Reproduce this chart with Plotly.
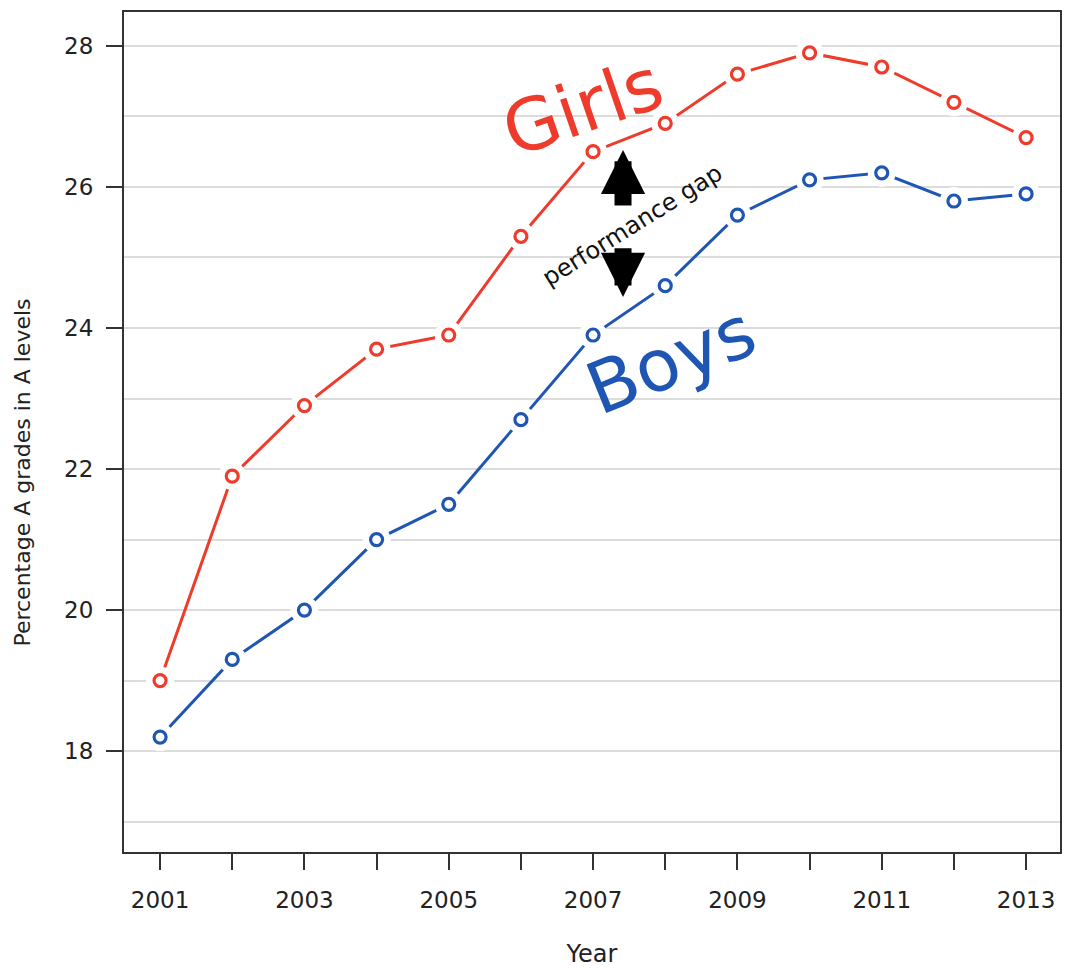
import plotly.graph_objects as go

years = list(range(2001, 2014))
girls = [19.0, 21.9, 22.9, 23.7, 23.9, 25.3, 26.5, 26.9, 27.6, 27.9, 27.7, 27.2, 26.7]
boys = [18.2, 19.3, 20.0, 21.0, 21.5, 22.7, 23.9, 24.6, 25.6, 26.1, 26.2, 25.8, 25.9]
x_tick_labels = [str(y) if y % 2 == 1 else "" for y in years]
y_major = [18, 20, 22, 24, 26, 28]
y_major_labels = [str(v) for v in y_major]
y_minor = [17, 19, 21, 23, 25, 27]

RED = "#ee3b2b"
BLUE = "#1f56b3"
FONT = "DejaVu Sans"

fig = go.Figure()
for vals, col in [(girls, RED), (boys, BLUE)]:
    fig.add_trace(go.Scatter(x=years, y=vals, mode="lines",
                             line=dict(color=col, width=3), showlegend=False, hoverinfo="skip"))
    fig.add_trace(go.Scatter(x=years, y=vals, mode="markers",
                             marker=dict(size=28, color="white", line=dict(width=0)),
                             showlegend=False, hoverinfo="skip"))
    fig.add_trace(go.Scatter(x=years, y=vals, mode="markers",
                             marker=dict(size=12, color="white", line=dict(color=col, width=3.2)),
                             showlegend=False))

# labels
fig.add_annotation(x=2006.86, y=27.14, text="Girls", showarrow=False, textangle=-19,
                   font=dict(family=FONT, size=72, color=RED))
fig.add_annotation(x=2008.08, y=23.55, text="Boys", showarrow=False, textangle=-22,
                   font=dict(family=FONT, size=72, color=BLUE))
fig.add_annotation(x=2007.55, y=25.46, text="performance gap", showarrow=False, textangle=-32,
                   font=dict(family=FONT, size=24, color="#111"))
# arrows
fig.add_annotation(x=2007.415, y=26.525, ax=2007.415, ay=25.716, xref="x", yref="y", axref="x", ayref="y",
                   text="", showarrow=True, arrowhead=2, arrowsize=0.52, arrowwidth=17, arrowcolor="black")
fig.add_annotation(x=2007.415, y=24.44, ax=2007.415, ay=25.15, xref="x", yref="y", axref="x", ayref="y",
                   text="", showarrow=True, arrowhead=2, arrowsize=0.52, arrowwidth=17, arrowcolor="black")
# y-axis title (positioned as in the reference, below the axis centre)
fig.add_annotation(xref="paper", yref="paper", x=-0.1087, y=0.452, text="Percentage A grades in A levels",
                   showarrow=False, textangle=-90, xanchor="center", yanchor="middle",
                   font=dict(family=FONT, size=22, color="#222"))

fig.update_layout(
    width=1065, height=968,
    margin=dict(l=124, r=3, t=12, b=116),
    plot_bgcolor="white", paper_bgcolor="white",
    font=dict(family=FONT, size=23, color="#222"),
    xaxis=dict(range=[2000.5, 2013.47], tickvals=years, ticktext=x_tick_labels,
               ticks="outside", ticklen=16, tickwidth=2, tickcolor="#333", ticklabelstandoff=10,
               showgrid=False, zeroline=False, showline=True, linecolor="#333", linewidth=2,
               mirror=True, title=dict(text="Year", font=dict(size=24), standoff=35)),
    yaxis=dict(range=[16.57, 28.48], tickvals=y_major, ticktext=y_major_labels,
               ticks="outside", ticklen=16, tickwidth=2, tickcolor="#333", ticklabelstandoff=8,
               showgrid=True, gridcolor="#dcdcdc", gridwidth=2, zeroline=False,
               showline=True, linecolor="#333", linewidth=2, mirror=True,
               minor=dict(tickvals=y_minor, ticks="", showgrid=True, gridcolor="#dcdcdc", gridwidth=2)),
)

fig.write_html("out.html", config={"displayModeBar": False},
               post_script="document.body.style.margin='0';")
